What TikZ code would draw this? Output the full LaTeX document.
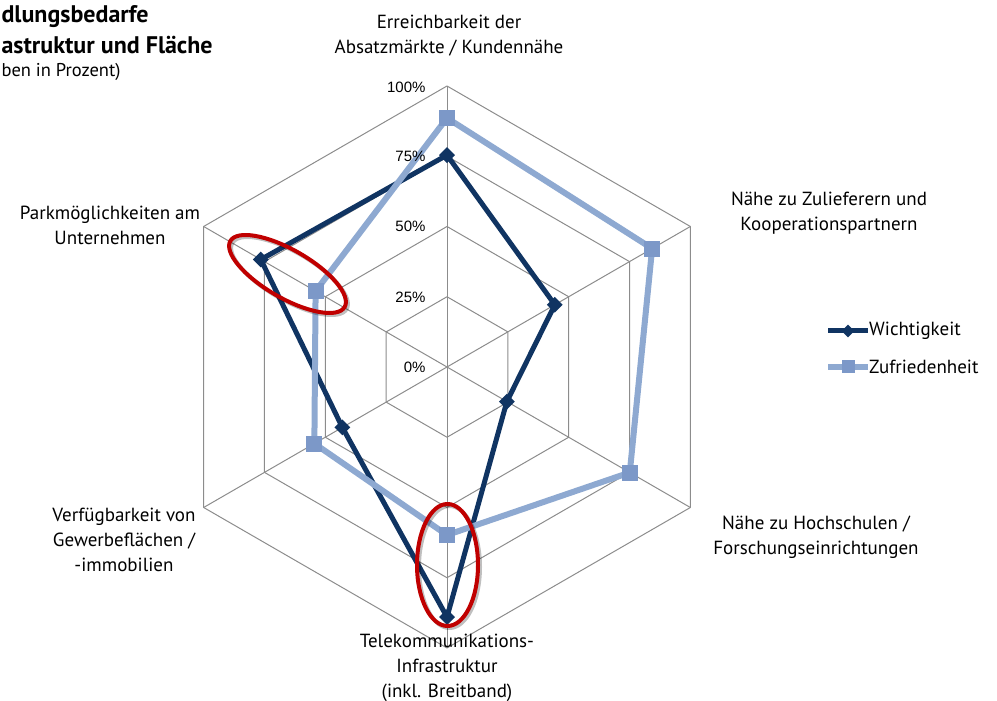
\documentclass[tikz,border=0pt]{standalone}
\usepackage{fontspec}
\setmainfont{PT Sans}
\newfontfamily\pctfont{Liberation Sans}
\usetikzlibrary{shapes.geometric,calc}

\definecolor{wichtig}{RGB}{16,52,98}
\definecolor{zufrieden}{RGB}{142,169,209}
\definecolor{zufriedenmark}{RGB}{124,152,200}
\definecolor{gridgray}{RGB}{140,140,140}
\definecolor{markred}{RGB}{192,0,0}

\begin{document}
\begin{tikzpicture}[x=1pt,y=1pt,line join=round,
                   every node/.style={font=\fontsize{19}{25}\selectfont},
                   gridline/.style={draw=gridgray,line width=1pt},
                   wline/.style={draw=wichtig,line width=5pt},
                   zline/.style={draw=zufrieden,line width=6pt},
                   wmark/.style={diamond,fill=wichtig,inner sep=0pt,minimum size=16pt},
                   zmark/.style={rectangle,fill=zufriedenmark,inner sep=0pt,minimum size=16pt},
                   pct/.style={anchor=east,font=\pctfont\fontsize{15}{16}\selectfont},
                   axislabel/.style={align=center},
                   redring/.style={draw=markred,line width=4pt},
                   ringshadow/.style={draw=black,opacity=0.25,line width=4pt}]
\useasboundingbox (0,0) rectangle (997,701);
\clip (0,0) rectangle (997,701);

% title, cut at the left edge
\node[anchor=west,font=\bfseries\fontsize{24}{26}\selectfont] (title1) at (-2,684) {dlungsbedarfe};
\node[anchor=west,font=\bfseries\fontsize{24}{26}\selectfont] (title2) at (-2,656) {astruktur und Fläche};
\node[anchor=west,font=\fontsize{18.5}{22}\selectfont] (title3) at (-2,629) {ben in Prozent)};

\begin{scope}[shift={(447,334)}]
% grid
\foreach \r in {70.25,140.5,210.75,281}{
  \draw[gridline] (90:\r) -- (30:\r) -- (-30:\r) -- (-90:\r) -- (-150:\r) -- (150:\r) -- cycle;
}
\foreach \a in {90,30,-30,-90,-150,150}{
  \draw[gridline] (0,0) -- (\a:281);
}
% data
\foreach \a/\w/\z [count=\i] in {90/0.754/0.886,30/0.443/0.843,-30/0.246/0.751,
                                  -90/0.89/0.598,-150/0.43/0.545,150/0.765/0.54}{
  \coordinate (w\i) at (\a:281*\w);
  \coordinate (z\i) at (\a:281*\z);
}
\draw[wline] (w1) -- (w2) -- (w3) -- (w4) -- (w5) -- (w6) -- cycle;
\foreach \i in {1,...,6}{
  \node[wmark] (wm\i) at (w\i) {};
}
\draw[zline] (z1) -- (z2) -- (z3) -- (z4) -- (z5) -- (z6) -- cycle;
\foreach \i in {1,...,6}{
  \node[zmark] (zm\i) at (z\i) {};
}
\end{scope}

% scale labels
\node[pct] (p100) at (429,614) {100\%};
\node[pct] (p75) at (429,545) {75\%};
\node[pct] (p50) at (429,475) {50\%};
\node[pct] (p25) at (429,404) {25\%};
\node[pct] (p0) at (429,334) {0\%};

% axis labels
\node[axislabel] (ax1) at (449,665) {Erreichbarkeit der\\Absatzmärkte / Kundennähe};
\node[axislabel] (ax2) at (829,488) {Nähe zu Zulieferern und\\Kooperationspartnern};
\node[axislabel] (ax3) at (816,164) {Nähe zu Hochschulen /\\Forschungseinrichtungen};
\node[axislabel] (ax4) at (447,33) {Telekommunikations-\\Infrastruktur\\(inkl. Breitband)};
\node[axislabel] (ax5) at (124,161) {Verfügbarkeit von\\Gewerbeflächen /\\-immobilien};
\node[axislabel] (ax6) at (110,476) {Parkmöglichkeiten am\\Unternehmen};

% highlighted pairs
\draw[ringshadow] (289.5,425) ellipse [x radius=66,y radius=24,rotate=-30];
\draw[redring] (287.5,427) ellipse [x radius=66,y radius=24,rotate=-30];
\draw[ringshadow] (449.5,134) ellipse [x radius=30.5,y radius=61];
\draw[redring] (447.5,136) ellipse [x radius=30.5,y radius=61];

% legend
\coordinate (lw0) at (828,370);
\coordinate (lw1) at (868,370);
\coordinate (lz0) at (828,334);
\coordinate (lz1) at (868,334);
\draw[wline] (lw0) -- (lw1);
\node[wmark,minimum size=13pt] (lwm) at ($(lw0)!0.5!(lw1)$) {};
\node[anchor=west,inner sep=1pt] (lwt) at (lw1) {Wichtigkeit};
\draw[zline] (lz0) -- (lz1);
\node[zmark,minimum size=13pt] (lzm) at ($(lz0)!0.5!(lz1)$) {};
\node[anchor=west,inner sep=1pt] (lzt) at (lz1) {Zufriedenheit};
\end{tikzpicture}
\end{document}
